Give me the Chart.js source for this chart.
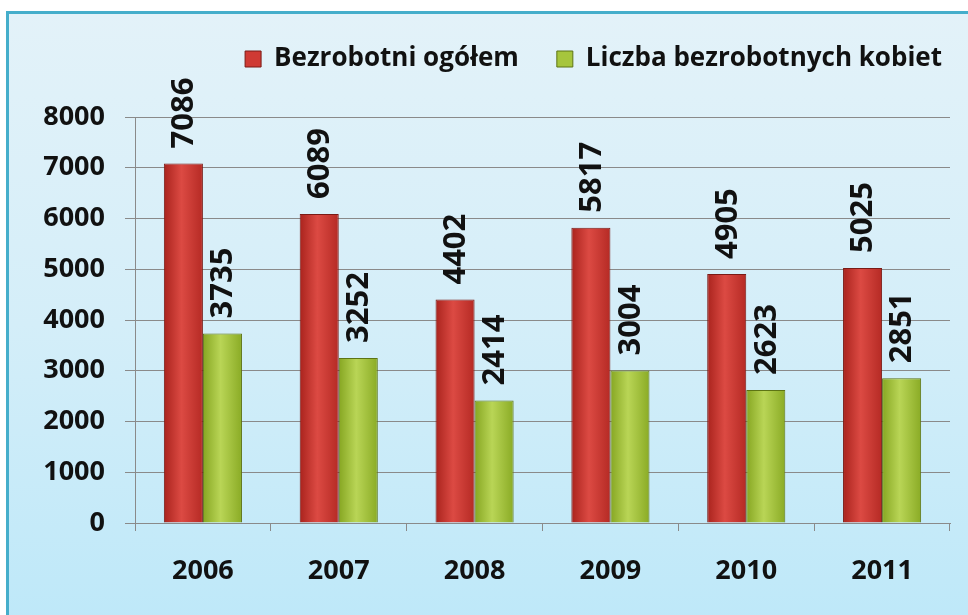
<!DOCTYPE html>
<html lang="pl">
<head>
  <meta charset="UTF-8" />
  <title>Bezrobocie 2006-2011</title>
  <style>
    body {
      margin: 0;
      background: #fff;
      font-family: 'Open Sans', sans-serif;
    }

    .panel {
      position: absolute;
      left: 6px;
      top: 11px;
      width: 970px;
      height: 620px;
      border: 3px solid #45aecb;
      background: linear-gradient(to bottom, #e3f2f9 0%, #d4eef9 50%, #bde8f9 100%);
    }

    .wrap {
      position: absolute;
      left: 0;
      top: 0;
      width: 968px;
      height: 615px;
    }
  </style>
</head>
<body>
  <div class="panel"></div>
  <div class="wrap">
    <canvas id="chart" width="968" height="615"></canvas>
  </div>

  <script src="https://cdn.jsdelivr.net/npm/chart.js"></script>
  <script>
    const years = ['2006', '2007', '2008', '2009', '2010', '2011'];
    const totalUnemployed = [7086, 6089, 4402, 5817, 4905, 5025];
    const womenUnemployed = [3735, 3252, 2414, 3004, 2623, 2851];
    const seriesNames = ['Bezrobotni ogółem', 'Liczba bezrobotnych kobiet'];

    const redStops = ['#a9231d', '#dc4a43', '#b52a24'];
    const greenStops = ['#86a622', '#b9d556', '#8aab25'];

    // horizontal shading on every bar, like the 3D-ish office look
    const barShading = {
      id: 'barShading',
      beforeDatasetsDraw(chart) {
        const ctx = chart.ctx;
        chart.data.datasets.forEach((ds, i) => {
          const stops = i === 0 ? redStops : greenStops;
          chart.getDatasetMeta(i).data.forEach(bar => {
            const g = ctx.createLinearGradient(bar.x - bar.width / 2, 0, bar.x + bar.width / 2, 0);
            g.addColorStop(0, stops[0]);
            g.addColorStop(0.45, stops[1]);
            g.addColorStop(1, stops[2]);
            bar.options.backgroundColor = g;
          });
        });
      }
    };

    // rotated value labels above the bars
    const valueLabels = {
      id: 'valueLabels',
      afterDatasetsDraw(chart) {
        const ctx = chart.ctx;
        ctx.save();
        ctx.fillStyle = '#111';
        ctx.font = 'bold 31px "Open Sans", sans-serif';
        ctx.textAlign = 'left';
        ctx.textBaseline = 'middle';
        chart.data.datasets.forEach((ds, i) => {
          chart.getDatasetMeta(i).data.forEach((bar, j) => {
            ctx.save();
            ctx.translate(bar.x + 1, bar.y - 15);
            ctx.rotate(-Math.PI / 2);
            ctx.fillText(String(ds.data[j]), 0, 0);
            ctx.restore();
          });
        });
        ctx.restore();
      }
    };

    // more room under the legend, and push it a bit to the right
    const legendSpace = {
      id: 'legendSpace',
      beforeInit(chart) {
        const fit = chart.legend.fit;
        chart.legend.fit = function () {
          fit.bind(chart.legend)();
          this.height += 35;
        };
      },
      afterLayout(chart) {
        chart.legend.left += 30;
        chart.legend.right += 30;
      }
    };

    new Chart(document.getElementById('chart'), {
      type: 'bar',
      data: {
        labels: years,
        datasets: [
          {
            label: seriesNames[0],
            data: totalUnemployed,
            backgroundColor: () => '#cf3a34',
            borderColor: '#7a1b16',
            borderWidth: 1,
            categoryPercentage: 0.575,
            barPercentage: 1
          },
          {
            label: seriesNames[1],
            data: womenUnemployed,
            backgroundColor: () => '#a6c53c',
            borderColor: '#5d7414',
            borderWidth: 1,
            categoryPercentage: 0.575,
            barPercentage: 1
          }
        ]
      },
      options: {
        responsive: false,
        animation: false,
        layout: {
          padding: { left: 0, right: 18, top: 8, bottom: 0 }
        },
        plugins: {
          tooltip: { enabled: false },
          legend: {
            align: 'end',
            labels: {
              color: '#111',
              font: { family: 'Open Sans', size: 26, weight: 'bold' },
              boxWidth: 16,
              boxHeight: 16,
              padding: 38
            }
          }
        },
        scales: {
          x: {
            grid: {
              offset: true,
              drawOnChartArea: false,
              color: '#8a8a8a',
              tickLength: 8
            },
            border: { color: '#8a8a8a' },
            ticks: {
              color: '#111',
              padding: 24,
              font: { family: 'Open Sans', size: 27, weight: 'bold' }
            },
            afterFit(scale) { scale.height = 92; }
          },
          y: {
            min: 0,
            max: 8000,
            grid: { color: '#8a8a8a', tickLength: 10 },
            border: { color: '#8a8a8a' },
            ticks: {
              stepSize: 1000,
              color: '#111',
              padding: 20,
              font: { family: 'Open Sans', size: 27, weight: 'bold' },
              callback: v => String(v)
            },
            afterFit(scale) { scale.width = 135; }
          }
        }
      },
      plugins: [barShading, valueLabels, legendSpace]
    });
  </script>
</body>
</html>
